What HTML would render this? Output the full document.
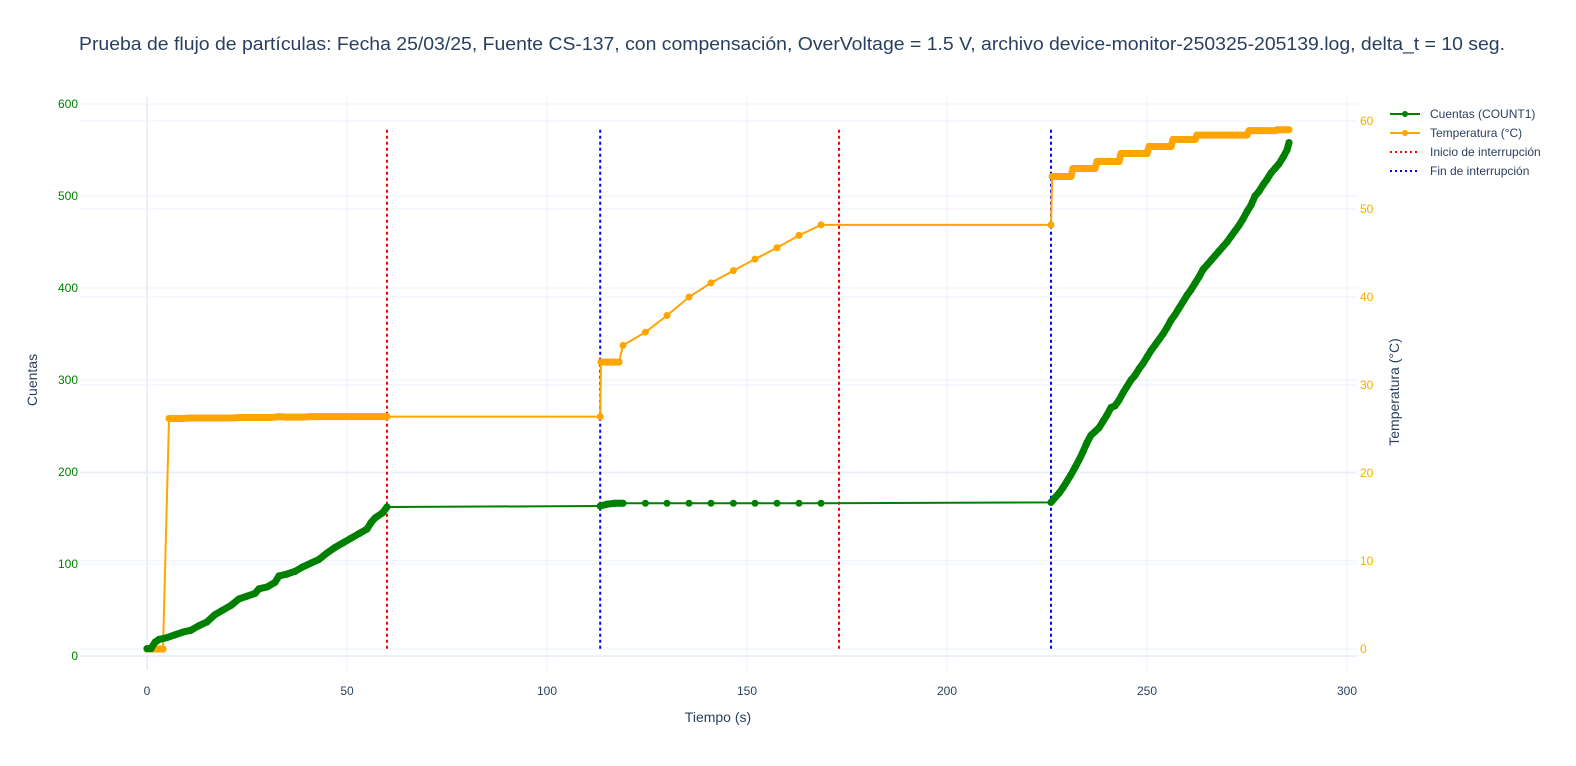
<!DOCTYPE html>
<html><head><meta charset="utf-8"><style>
body{margin:0;background:#fff;}
svg{display:block;font-family:"Liberation Sans",Arial,sans-serif;}
</style></head><body>
<svg id="chart" width="1576" height="766">
<rect width="1576" height="766" fill="#fff"/>
<text x="79" y="50" textLength="1426" lengthAdjust="spacingAndGlyphs" font-size="18" fill="#2a3f5f">Prueba de flujo de partículas: Fecha 25/03/25, Fuente CS-137, con compensación, OverVoltage = 1.5 V, archivo device-monitor-250325-205139.log, delta_t = 10 seg.</text>
<g id="grid"></g><g id="vlines"></g><g id="series"></g><g id="axes"></g>
<text x="718" y="722" text-anchor="middle" font-size="14" fill="#2a3f5f">Tiempo (s)</text>
<text transform="translate(37,380) rotate(-90)" text-anchor="middle" font-size="14" fill="#2a3f5f">Cuentas</text>
<text transform="translate(1399,392) rotate(-90)" text-anchor="middle" font-size="14" fill="#2a3f5f">Temperatura (°C)</text>
<g font-size="12" fill="#2a3f5f">
<g><line x1="1390" y1="114" x2="1420" y2="114" stroke="green" stroke-width="2"/><circle cx="1405" cy="114" r="3" fill="green"/><text x="1430" y="118">Cuentas (COUNT1)</text></g>
<g><line x1="1390" y1="133" x2="1420" y2="133" stroke="orange" stroke-width="2"/><circle cx="1405" cy="133" r="3" fill="orange"/><text x="1430" y="137">Temperatura (°C)</text></g>
<g><line x1="1390" y1="152" x2="1420" y2="152" stroke="red" stroke-width="2" stroke-dasharray="2,3"/><text x="1430" y="156">Inicio de interrupción</text></g>
<g><line x1="1390" y1="171" x2="1420" y2="171" stroke="blue" stroke-width="2" stroke-dasharray="2,3"/><text x="1430" y="175">Fin de interrupción</text></g>
</g>
</svg>
<script>
const xTicks=[0,50,100,150,200,250,300];
const yTicks=[0,100,200,300,400,500,600];
const y2Ticks=[0,10,20,30,40,50,60];
const countT=[0,1,2,3,5,7,9,11,13,15,17,19,21,23,25,27,28,30,32,33,35,37,39,41,43,45,47,49,51,53,55,56,57,59,60,113.3,115,117,118,119,124.6,130,135.5,141,146.6,152,157.5,163,168.5,226,227,228,229,230,231,232,233,234,235,236,237,238,239,240,241,242,243,244,245,246,247,248,249,250,251,252,253,254,255,256,257,258,259,260,261,262,263,264,265,266,267,268,269,270,271,272,273,274,275,276,277,278,279,280,281,282,283,284,285,285.5];
const countV=[8,8,15,18,20,23,26,28,33,37,45,50,55,62,65,68,73,75,80,87,89,92,97,101,105,112,118,123,128,133,138,145,150,156,162,163,165,166,166,166,166,166,166,166,166,166,166,166,166,167,172,177,183,190,197,205,213,222,232,240,244,248,255,262,270,272,278,286,293,300,305,312,318,325,332,338,344,350,357,365,371,378,385,392,398,405,412,420,425,430,435,440,445,450,456,462,468,475,483,490,500,505,512,518,525,530,535,542,550,558,565,570];
const tempT=[0,2,4,5.5,7,9,11,13,15,17,19,21,23,25,27,29,31,33,35,37,39,41,43,45,47,49,51,53,55,57,59,60,113.3,113.5,115,117,118,119,124.6,130,135.5,141,146.6,152,157.5,163,168.5,226,226.3,228,230,231,231.5,233,235,237,237.5,239,241,243,243.5,245,247,250,250.5,252,254,256,256.5,258,260,262,262.5,264,266,268,270,272,275,275.5,277,279,282,282.5,284,285.5];
const tempV=[0,0,0,26.2,26.2,26.2,26.25,26.25,26.25,26.25,26.25,26.25,26.3,26.3,26.3,26.3,26.3,26.4,26.35,26.35,26.35,26.4,26.4,26.4,26.4,26.4,26.4,26.4,26.4,26.4,26.4,26.4,26.4,32.6,32.6,32.6,32.6,34.5,36.0,37.9,40.0,41.6,43.0,44.3,45.6,47.0,48.2,48.2,53.7,53.7,53.7,53.7,54.6,54.6,54.6,54.6,55.4,55.4,55.4,55.4,56.3,56.3,56.3,56.3,57.1,57.1,57.1,57.1,57.9,57.9,57.9,57.9,58.4,58.4,58.4,58.4,58.4,58.4,58.4,58.9,58.9,58.9,58.9,59.0,59.0,59.0];
const startT=[60,173];
const endT=[113.3,226];
const X=t=>147+t*4, Y=v=>656-v*0.92, Y2=v=>649-v*8.8;
const NS='http://www.w3.org/2000/svg';
function mk(tag,attrs,parent){const e=document.createElementNS(NS,tag);for(const k in attrs)e.setAttribute(k,attrs[k]);document.getElementById(parent).appendChild(e);return e;}
xTicks.forEach(t=>{const l=mk('line',{x1:X(t),x2:X(t),y1:97,y2:670,stroke:'#ebf0f8','stroke-width':t===0?2:1},'grid');


const tx=mk('text',{x:X(t),y:695,'text-anchor':'middle','font-size':12,fill:'#2a3f5f'},'axes');tx.textContent=t;

});
yTicks.forEach(v=>{const l=mk('line',{x1:80,x2:1357,y1:Y(v),y2:Y(v),stroke:'#ebf0f8','stroke-width':v===0?2:1},'grid');


const tx=mk('text',{x:78,y:Y(v)+4,'text-anchor':'end','font-size':12,fill:'green'},'axes');tx.textContent=v;

});
y2Ticks.forEach(v=>{const l=mk('line',{x1:80,x2:1357,y1:Y2(v),y2:Y2(v),stroke:'#ebf0f8','stroke-width':1},'grid');


const tx=mk('text',{x:1360,y:Y2(v)+4,'text-anchor':'start','font-size':12,fill:'orange'},'axes');tx.textContent=v;

});
startT.forEach(t=>{const l=mk('line',{x1:X(t),x2:X(t),y1:Y2(59),y2:Y2(0),stroke:'red','stroke-width':2,'stroke-dasharray':'3,3'},'vlines');

});
endT.forEach(t=>{const l=mk('line',{x1:X(t),x2:X(t),y1:Y2(59),y2:Y2(0),stroke:'blue','stroke-width':2,'stroke-dasharray':'3,3'},'vlines');

});
function series(T,V,yf,color,name){
 const p=mk('polyline',{points:T.map((t,i)=>X(t)+','+yf(V[i])).join(' '),fill:'none',stroke:color,'stroke-width':2},'series');
 
 
 for(let i=0;i<T.length-1;i++){
  if(T[i+1]-T[i]<=3.1 && Math.abs(yf(V[i+1])-yf(V[i]))<14){
   const s=mk('line',{x1:X(T[i]),y1:yf(V[i]),x2:X(T[i+1]),y2:yf(V[i+1]),stroke:color,'stroke-width':7,'stroke-linecap':'round'},'series');
   
   
  }
 }
 T.forEach((t,i)=>{const c=mk('circle',{cx:X(t),cy:yf(V[i]),r:3.5,fill:color},'series');
 
 });
}
series(tempT,tempV,Y2,'orange','temperatura');
series(countT,countV,Y,'green','cuentas');
</script>
</body></html>
